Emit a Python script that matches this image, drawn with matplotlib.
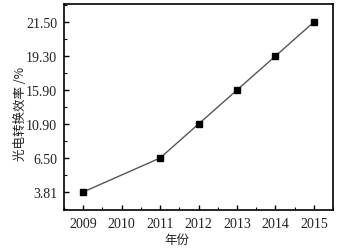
import matplotlib
matplotlib.use("Agg")
import matplotlib.pyplot as plt
from matplotlib.ticker import MultipleLocator, FixedLocator

years = [2009, 2011, 2012, 2013, 2014, 2015]
efficiency = ["3.81", "6.50", "10.90", "15.90", "19.30", "21.50"]
x_ticks = [2009, 2010, 2011, 2012, 2013, 2014, 2015]

plt.rcParams['font.family'] = ['Liberation Serif', 'Noto Sans CJK SC']

fig = plt.figure(figsize=(3.42, 2.53), dpi=100)
ax = fig.add_axes([0.187, 0.166, 0.787, 0.814])

ypos = list(range(len(efficiency)))
ax.plot(years, ypos, color='#555555', lw=1.0, marker='s', ms=4.2,
        mfc='black', mec='black')

ax.set_xlim(2008.5, 2015.5)
ax.set_ylim(-0.53, 5.53)
ax.set_xticks(x_ticks)
ax.set_xticklabels([str(v) for v in x_ticks])
ax.set_yticks(ypos)
ax.set_yticklabels(efficiency)
ax.xaxis.set_minor_locator(MultipleLocator(0.5))
ax.yaxis.set_minor_locator(FixedLocator([-0.5 + i for i in range(7)]))
ax.tick_params(which='major', direction='in', length=3.5, width=1, labelsize=10,
               colors='black', pad=5)
ax.tick_params(which='minor', direction='in', length=2, width=0.8)
ax.tick_params(axis='both', labelcolor='#222222')
for s in ax.spines.values():
    s.set_linewidth(1.2)

ax.set_xlabel('年份', family=['Noto Sans CJK SC'], fontsize=9, color='#222222')
ax.xaxis.set_label_coords(0.42, -0.112)
ax.set_ylabel('光电转换效率 /%', family=['Noto Sans CJK SC', 'DejaVu Sans'],
              fontsize=9, color='#222222')
ax.yaxis.set_label_coords(-0.138, 0.473)

fig.savefig('out.png', dpi=100)
